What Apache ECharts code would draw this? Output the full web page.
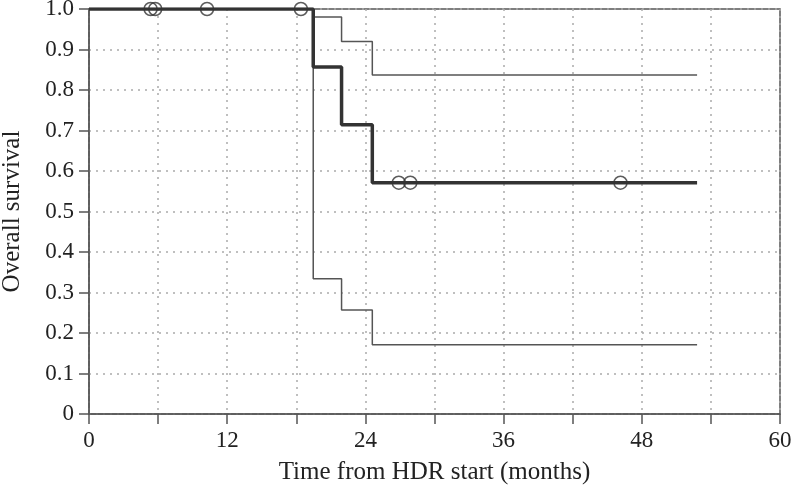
<!DOCTYPE html>
<html>
<head>
<meta charset="utf-8">
<script src="https://cdn.jsdelivr.net/npm/echarts@6/dist/echarts.min.js"></script>
<style>html,body{margin:0;padding:0;background:#fff}#c{width:797px;height:489px}</style>
</head>
<body>
<div id="c"></div>
<script>
// Kaplan-Meier estimate (time in months, survival)
const kmTimes = [0, 19.47, 21.93, 24.6, 52.8];
const kmSurv = [1.0, 0.857, 0.714, 0.571, 0.571];
// Upper confidence bound
const upperSurv = [1.0, 0.98, 0.92, 0.837, 0.837];
// Lower confidence bound
const lowerSurv = [1.0, 0.334, 0.257, 0.171, 0.171];
// Censored observations
const censorTimes = [5.35, 5.75, 10.25, 18.4, 26.9, 27.9, 46.15];
const censorSurv = [1.0, 1.0, 1.0, 1.0, 0.571, 0.571, 0.571];
// Axis ticks
const xTicks = [0, 12, 24, 36, 48, 60];
const yTicks = [0, 0.1, 0.2, 0.3, 0.4, 0.5, 0.6, 0.7, 0.8, 0.9, 1.0];

const pair = (xs, ys) => xs.map((x, i) => [x, ys[i]]);
const FONT = 'Liberation Serif';

const chart = echarts.init(document.getElementById('c'), null, {renderer: 'canvas'});
chart.setOption({
  animation: false,
  backgroundColor: '#fff',
  grid: {left: 89, right: 17, top: 9, bottom: 75, containLabel: false, outerBoundsMode: 'none',
         show: true, borderColor: '#555', borderWidth: 1.5, backgroundColor: 'transparent'},
  xAxis: {
    type: 'value', min: 0, max: 60, interval: 6,
    axisLine: {show: true, lineStyle: {color: '#555', width: 1.5}},
    axisTick: {show: true, length: 10, lineStyle: {color: '#555', width: 1.5}},
    axisLabel: {
      margin: 15, color: '#222', fontFamily: FONT, fontSize: 23,
      formatter: v => xTicks.includes(v) ? String(v) : ''
    },
    splitLine: {show: true, lineStyle: {color: '#aaa', type: [2, 5], width: 1.5}},
    name: 'Time from HDR start (months)', nameLocation: 'middle', nameGap: 46,
    nameTextStyle: {color: '#222', fontFamily: FONT, fontSize: 25}
  },
  yAxis: {
    type: 'value', min: 0, max: 1, interval: 0.1,
    axisLine: {show: true, lineStyle: {color: '#555', width: 1.5}},
    axisTick: {show: true, length: 10, lineStyle: {color: '#555', width: 1.5}},
    axisLabel: {
      margin: 15, color: '#222', fontFamily: FONT, fontSize: 23,
      formatter: v => { const r = Math.round(v * 10) / 10; return r === 0 ? '0' : r.toFixed(1); }
    },
    splitLine: {show: true, lineStyle: {color: '#aaa', type: [2, 5], width: 1.5}},
    name: 'Overall survival', nameLocation: 'middle', nameGap: 64,
    nameTextStyle: {color: '#222', fontFamily: FONT, fontSize: 25}
  },
  series: [
    {type: 'line', step: 'end', data: pair(kmTimes, upperSurv), symbol: 'none',
     lineStyle: {color: '#555', width: 1.5}, z: 2},
    {type: 'line', step: 'end', data: pair(kmTimes, lowerSurv), symbol: 'none',
     lineStyle: {color: '#555', width: 1.5}, z: 2},
    {type: 'line', step: 'end', data: pair(kmTimes, kmSurv), symbol: 'none',
     lineStyle: {color: '#333', width: 3.5}, z: 3},
    {type: 'scatter', data: pair(censorTimes, censorSurv), symbol: 'circle', symbolSize: 13,
     itemStyle: {color: 'rgba(255,255,255,0)', borderColor: '#333', borderWidth: 1.5}, z: 4}
  ]
});
</script>
</body>
</html>
